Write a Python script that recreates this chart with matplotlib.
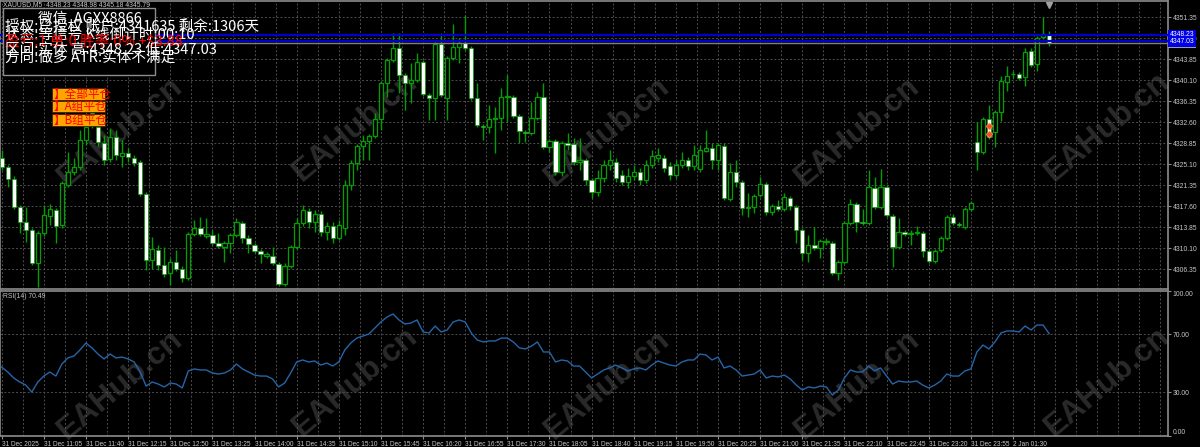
import numpy as np
import matplotlib
matplotlib.use('Agg')
import matplotlib.pyplot as plt
import matplotlib.transforms as mtrans
from matplotlib.patches import Rectangle

# ---- data (XAUUSD M5) ----
opens = [
    4326.23, 4324.62, 4322.48, 4317.48, 4314.80, 4313.37, 4307.48, 4312.83, 4315.87, 4316.94,
    4314.26, 4321.40, 4323.73, 4324.62, 4329.44, 4334.26, 4331.76, 4328.90, 4326.05, 4329.98,
    4326.58, 4327.12, 4326.23, 4325.51, 4319.80, 4308.01, 4309.80, 4307.12, 4305.69, 4307.65,
    4306.40, 4304.80, 4312.65, 4313.73, 4312.30, 4312.48, 4311.05, 4310.33, 4311.05, 4312.48,
    4314.62, 4311.94, 4310.69, 4309.62, 4308.73, 4308.73, 4307.30, 4303.73, 4306.94, 4310.33,
    4314.62, 4316.76, 4314.80, 4316.23, 4313.01, 4314.08, 4311.94, 4313.73, 4321.40, 4325.33,
    4328.37, 4329.26, 4330.15, 4333.19, 4339.62, 4343.73, 4345.87, 4341.05, 4339.62, 4340.15,
    4343.37, 4337.48, 4336.94, 4346.58, 4336.94, 4344.08, 4346.05, 4346.76, 4345.87, 4336.94,
    4331.94, 4331.76, 4333.19, 4333.37, 4337.12, 4337.12, 4333.73, 4330.87, 4330.69, 4333.37,
    4337.12, 4328.19, 4329.26, 4323.73, 4328.90, 4328.73, 4325.51, 4325.87, 4322.30, 4320.15,
    4322.65, 4324.98, 4325.51, 4323.19, 4321.94, 4323.01, 4323.73, 4322.30, 4324.98, 4326.23,
    4326.23, 4324.80, 4323.19, 4324.98, 4325.87, 4324.80, 4324.26, 4327.48, 4328.01, 4325.87,
    4328.37, 4318.90, 4323.73, 4321.94, 4317.30, 4317.48, 4319.62, 4321.58, 4316.58, 4317.65,
    4317.12, 4319.08, 4317.48, 4313.37, 4309.26, 4310.69, 4310.15, 4311.23, 4311.05, 4305.69,
    4307.65, 4314.62, 4318.01, 4314.80, 4314.62, 4320.87, 4317.48, 4321.05, 4315.87, 4310.33,
    4313.01, 4312.74, 4312.83, 4312.83, 4309.62, 4307.83, 4309.80, 4311.94, 4315.69, 4314.44,
    4313.90, 4317.12, 4329.08, 4327.30, 4333.19, 4330.87, 4334.44, 4339.80, 4341.14, 4341.23,
    4340.69, 4345.33, 4343.01, 4347.83, 4348.23,
]
highs = [
    4327.65, 4324.98, 4323.01, 4317.83, 4317.48, 4313.73, 4313.19, 4317.83, 4318.01, 4317.30,
    4322.12, 4327.30, 4326.23, 4331.23, 4333.90, 4335.15, 4333.01, 4330.33, 4331.58, 4331.23,
    4329.44, 4328.01, 4326.76, 4325.87, 4320.15, 4312.12, 4310.69, 4310.33, 4308.37, 4309.80,
    4306.94, 4313.01, 4315.15, 4315.69, 4315.51, 4313.37, 4312.83, 4311.40, 4312.83, 4315.51,
    4314.98, 4312.48, 4311.05, 4309.98, 4309.44, 4310.33, 4307.65, 4307.48, 4310.69, 4315.51,
    4317.83, 4317.30, 4316.94, 4316.76, 4314.80, 4314.80, 4315.15, 4322.30, 4325.87, 4328.73,
    4330.33, 4330.51, 4334.26, 4339.98, 4344.08, 4348.55, 4348.55, 4341.40, 4343.19, 4344.98,
    4343.73, 4337.83, 4346.94, 4348.55, 4344.44, 4350.15, 4347.65, 4351.76, 4346.23, 4339.62,
    4332.30, 4335.69, 4335.33, 4338.73, 4341.05, 4337.48, 4334.08, 4331.23, 4336.23, 4338.01,
    4339.62, 4329.62, 4329.62, 4329.26, 4330.69, 4329.80, 4329.80, 4326.23, 4322.65, 4324.08,
    4325.87, 4327.65, 4326.23, 4324.08, 4324.44, 4324.98, 4324.44, 4325.87, 4327.65, 4328.01,
    4326.76, 4325.51, 4325.87, 4327.30, 4326.40, 4328.55, 4328.55, 4331.23, 4328.90, 4328.90,
    4328.90, 4325.33, 4325.87, 4322.30, 4319.98, 4319.80, 4322.83, 4321.94, 4318.01, 4318.73,
    4319.98, 4319.44, 4317.83, 4313.73, 4312.48, 4313.90, 4311.76, 4311.94, 4311.40, 4308.01,
    4314.98, 4318.90, 4318.37, 4317.12, 4324.08, 4322.83, 4324.26, 4321.40, 4316.23, 4315.51,
    4313.37, 4313.37, 4314.08, 4313.19, 4309.98, 4309.98, 4312.30, 4316.05, 4316.23, 4314.80,
    4317.48, 4318.55, 4332.65, 4333.55, 4335.69, 4334.80, 4340.87, 4342.65, 4341.76, 4341.58,
    4345.87, 4345.87, 4348.01, 4351.40, 4348.98,
]
lows = [
    4324.08, 4321.05, 4317.12, 4312.83, 4311.23, 4307.12, 4303.19, 4312.30, 4314.26, 4311.05,
    4313.73, 4321.05, 4323.19, 4324.08, 4328.55, 4331.58, 4328.37, 4324.98, 4325.51, 4325.87,
    4324.62, 4325.51, 4324.80, 4319.44, 4306.23, 4306.40, 4306.23, 4304.98, 4303.55, 4306.05,
    4304.08, 4304.44, 4312.30, 4312.30, 4311.94, 4310.69, 4310.15, 4307.65, 4309.26, 4312.12,
    4311.05, 4309.26, 4309.26, 4307.48, 4308.37, 4307.12, 4303.37, 4303.37, 4306.58, 4309.98,
    4314.08, 4313.73, 4313.01, 4312.30, 4311.58, 4311.05, 4311.58, 4312.48, 4320.51, 4324.08,
    4325.87, 4325.87, 4329.80, 4331.23, 4337.12, 4343.37, 4337.83, 4334.80, 4336.05, 4339.80,
    4337.30, 4333.01, 4333.01, 4337.12, 4333.01, 4343.73, 4343.19, 4345.51, 4336.58, 4331.76,
    4329.44, 4330.69, 4327.12, 4331.23, 4332.65, 4333.37, 4328.90, 4329.08, 4330.33, 4333.01,
    4327.83, 4327.30, 4323.19, 4323.01, 4327.65, 4324.98, 4324.08, 4321.40, 4319.08, 4319.44,
    4321.94, 4324.08, 4321.94, 4321.40, 4320.87, 4322.30, 4321.40, 4321.76, 4324.44, 4325.51,
    4323.73, 4322.30, 4322.65, 4324.44, 4324.08, 4324.08, 4323.73, 4327.30, 4324.26, 4324.08,
    4318.73, 4318.55, 4321.05, 4316.05, 4315.69, 4316.40, 4319.26, 4316.05, 4316.05, 4316.76,
    4316.76, 4316.94, 4311.05, 4308.01, 4307.65, 4309.80, 4308.37, 4310.69, 4305.33, 4304.44,
    4307.30, 4314.26, 4313.01, 4314.26, 4314.26, 4317.12, 4317.12, 4315.69, 4306.76, 4309.98,
    4312.30, 4310.69, 4312.48, 4308.55, 4307.48, 4307.48, 4309.44, 4311.58, 4314.26, 4313.90,
    4313.55, 4316.76, 4324.08, 4326.94, 4329.62, 4328.19, 4332.83, 4338.19, 4340.51, 4340.15,
    4339.08, 4342.48, 4341.76, 4347.48, 4346.23,
]
closes = [
    4324.62, 4322.48, 4317.48, 4314.80, 4313.37, 4307.48, 4312.83, 4316.05, 4317.12, 4314.08,
    4321.76, 4323.73, 4324.62, 4329.44, 4331.76, 4333.73, 4329.08, 4325.87, 4329.98, 4326.76,
    4327.12, 4326.40, 4325.33, 4319.80, 4308.01, 4309.98, 4307.12, 4305.51, 4307.65, 4306.40,
    4304.80, 4312.65, 4313.73, 4312.65, 4312.65, 4311.05, 4310.51, 4311.05, 4312.48, 4314.80,
    4311.94, 4310.87, 4309.62, 4309.08, 4309.08, 4307.48, 4303.73, 4306.94, 4310.33, 4314.62,
    4316.94, 4314.80, 4316.23, 4313.01, 4314.08, 4311.94, 4314.26, 4321.40, 4325.33, 4328.37,
    4329.26, 4330.15, 4333.19, 4339.62, 4343.73, 4345.87, 4341.05, 4339.62, 4340.15, 4343.37,
    4337.65, 4336.94, 4346.58, 4337.48, 4344.08, 4346.05, 4346.76, 4345.87, 4336.94, 4332.12,
    4331.76, 4333.19, 4333.37, 4337.12, 4337.30, 4333.73, 4331.05, 4330.69, 4333.37, 4337.12,
    4328.19, 4329.26, 4323.73, 4328.90, 4328.55, 4325.51, 4325.87, 4322.30, 4320.15, 4322.65,
    4324.98, 4325.87, 4322.65, 4321.94, 4323.01, 4323.73, 4322.30, 4324.98, 4326.58, 4326.76,
    4324.44, 4323.19, 4324.98, 4325.87, 4324.80, 4326.76, 4327.65, 4328.01, 4325.87, 4328.55,
    4319.08, 4323.73, 4321.94, 4317.30, 4317.48, 4319.44, 4321.58, 4316.58, 4317.65, 4317.12,
    4319.26, 4317.65, 4313.37, 4309.26, 4310.69, 4310.15, 4311.40, 4311.40, 4305.69, 4307.65,
    4314.62, 4318.01, 4314.80, 4314.62, 4321.05, 4317.48, 4321.05, 4316.05, 4310.33, 4313.01,
    4312.65, 4312.83, 4313.01, 4309.62, 4307.83, 4309.62, 4311.94, 4315.69, 4314.62, 4314.26,
    4317.12, 4318.19, 4327.30, 4333.19, 4329.98, 4334.44, 4339.98, 4340.87, 4341.23, 4340.51,
    4345.15, 4342.83, 4347.65, 4348.37, 4346.71,
]
rsi = [
    47.4, 44.0, 39.9, 37.1, 35.0, 30.2, 37.1, 41.2, 44.0, 41.2,
    49.5, 53.7, 55.0, 59.2, 64.0, 60.6, 56.4, 53.0, 56.4, 53.7,
    54.3, 53.0, 50.9, 44.0, 34.3, 37.1, 35.7, 33.7, 36.4, 35.7,
    33.0, 44.7, 46.1, 45.4, 45.4, 43.3, 42.6, 43.3, 45.4, 49.5,
    46.1, 44.0, 41.9, 41.2, 41.2, 39.2, 33.7, 36.4, 43.3, 50.9,
    52.3, 50.9, 51.6, 48.8, 50.2, 48.1, 50.9, 59.2, 64.0, 67.4,
    68.8, 70.2, 74.3, 78.5, 81.9, 84.0, 79.9, 77.1, 77.8, 79.9,
    71.6, 70.9, 75.7, 71.6, 73.0, 78.5, 79.9, 78.5, 70.9, 66.1,
    64.7, 65.4, 65.4, 67.4, 67.4, 64.7, 60.6, 59.9, 61.9, 64.7,
    57.8, 57.8, 50.9, 52.3, 51.6, 48.1, 48.1, 44.0, 39.9, 42.6,
    45.4, 46.8, 48.8, 46.8, 44.7, 46.1, 46.8, 45.4, 48.8, 51.6,
    50.2, 48.8, 48.1, 50.9, 52.3, 52.3, 56.4, 55.7, 52.3, 54.3,
    46.8, 48.1, 45.4, 41.2, 41.9, 42.6, 45.4, 39.9, 41.2, 40.6,
    41.9, 39.2, 35.0, 31.6, 33.7, 33.0, 34.3, 33.7, 28.1, 31.6,
    39.9, 45.4, 44.0, 44.0, 48.1, 44.7, 46.8, 41.2, 35.7, 37.8,
    37.1, 37.1, 37.8, 35.0, 33.0, 35.0, 37.8, 42.6, 41.2, 41.2,
    44.7, 46.1, 57.8, 62.6, 59.9, 64.7, 70.9, 72.3, 72.3, 71.6,
    75.7, 73.0, 76.4, 76.4, 70.5,
]

time_labels = [
    '31 Dec 2025', '31 Dec 11:05', '31 Dec 11:40', '31 Dec 12:15', '31 Dec 12:50',
    '31 Dec 13:25', '31 Dec 14:00', '31 Dec 14:35', '31 Dec 15:10', '31 Dec 15:45',
    '31 Dec 16:20', '31 Dec 16:55', '31 Dec 17:30', '31 Dec 18:05', '31 Dec 18:40',
    '31 Dec 19:15', '31 Dec 19:50', '31 Dec 20:25', '31 Dec 21:00', '31 Dec 21:35',
    '31 Dec 22:10', '31 Dec 22:45', '31 Dec 23:20', '31 Dec 23:55', '2 Jan 01:30',
]
price_ticks = [4351.35, 4347.60, 4343.85, 4340.10, 4336.35, 4332.60, 4328.85,
               4325.10, 4321.35, 4317.60, 4313.85, 4310.10, 4306.35]
rsi_ticks = [0, 30, 70, 100]
rsi_levels = [30, 70]

range_high = 4348.23
range_low = 4347.03
bid = 4346.71
trade_bars = [164, 164]
trade_prices = [4331.94, 4330.46]

info_lines = [
    '授权:已授权 账户:4341635 剩余:1306天',
    '状态:等信号 K线倒计时:00:10',
    '区间:实体 高:4348.23 低:4347.03',
    '方向:做多 ATR:实体不满足',
]
info_red = '盈亏:1 单:0 胜率:0% +$3.88'
buttons = ['】全部平仓', '】A组平仓', '】B组平仓']

wm_x = [120, 355, 607, 857, 1107, 120, 355, 607, 857, 1107]
wm_y = [132, 127, 132, 132, 127, 385, 382, 385, 385, 382]

# ---- figure ----
W, H = 1200, 447
GREEN = '#00a000'
GRID = '#4e4e4e'
TXT = '#c8c8c8'
CJK = ['Noto Sans CJK SC', 'DejaVu Sans']
plt.rcParams['font.family'] = ['Liberation Sans', 'DejaVu Sans']

fig = plt.figure(figsize=(W / 100, H / 100), dpi=100, facecolor='black')


def rect(top, bottom, right=1167.7):
    return [0, 1 - bottom / H, right / W, (bottom - top) / H]


wm = fig.add_axes([0, 0, 1, 1], zorder=0)
wm.set_xlim(0, W)
wm.set_ylim(H, 0)
wm.axis('off')
for x, y in zip(wm_x, wm_y):
    wm.text(x, y, 'EAHub.cn', rotation=40, rotation_mode='anchor', ha='center', va='center',
            color='#2a2a2a', fontsize=23, fontweight='bold', family='Liberation Sans')

ax = fig.add_axes(rect(1, 289), zorder=1)
ax_rsi = fig.add_axes(rect(290.8, 435.8), zorder=1)

n = len(opens)
bars = np.arange(n)
grid_bars = np.arange(0, 194, 3.5)
for a in (ax, ax_rsi):
    a.set_facecolor('none')
    a.set_xlim(-0.28, 193.7)
    for s in a.spines.values():
        s.set_color('#8c8c8c')
        s.set_linewidth(1.2)
    for g in grid_bars:
        a.axvline(g, color=GRID, lw=0.7, ls=(0, (2, 2)), zorder=0)

# candles
o = np.array(opens)
c = np.array(closes)
up = c >= o
body_lo = np.minimum(o, c)
body_h = np.maximum(np.abs(c - o), 0.12)
ax.vlines(bars, lows, highs, color=GREEN, lw=1, zorder=3)
ax.bar(bars[up], body_h[up], bottom=body_lo[up], width=0.72, color='black',
       edgecolor=GREEN, linewidth=0.9, zorder=4)
ax.bar(bars[~up], body_h[~up], bottom=body_lo[~up], width=0.72, color='white',
       edgecolor=GREEN, linewidth=0.5, zorder=4)

ax.set_ylim(4302.83, 4354.26)
for p in price_ticks:
    ax.axhline(p, color=GRID, lw=0.7, ls=(0, (2, 2)), zorder=0)
ax.axhline(bid, color='#808080', lw=1, zorder=5)
ax.axhline(range_high, color='#0000cc', lw=1.6, zorder=5)
ax.axhline(range_low, color='#0000cc', lw=1.6, zorder=5)
ax.plot(trade_bars, trade_prices, ls='none', marker='D', ms=3.5, mfc='#ff4a20',
        mec='#ff9060', mew=0.5, zorder=6)

ax.yaxis.tick_right()
ax.set_yticks(price_ticks)
ax.set_yticklabels([f'{v:.2f}' for v in price_ticks])
ax.tick_params(axis='y', direction='out', length=2.5, color='#909090', labelcolor=TXT,
               labelsize=4.9, pad=1)
ax.set_xticks([])

tr = mtrans.blended_transform_factory(ax.transAxes, ax.transData)
ax.text(1.002, bid, f'{bid:.2f}', transform=tr, ha='left', va='center', fontsize=4.9,
        color='black', clip_on=False, zorder=7,
        bbox=dict(boxstyle='square,pad=0.25', fc='#a0a0a0', ec='none'))
for v in (range_high, range_low):
    ax.text(1.002, v, f'{v:.2f}', transform=tr, ha='left', va='center', fontsize=4.9,
            color='white', clip_on=False, zorder=8,
            bbox=dict(boxstyle='square,pad=0.25', fc='#0000e6', ec='none'))
trx = mtrans.blended_transform_factory(ax.transData, ax.transAxes)
ax.plot([n - 1], [0.985], transform=trx, marker='v', ms=4, color='#a0a0a0',
        clip_on=False, zorder=8)

# RSI
ax_rsi.set_ylim(0, 100)
for lv in rsi_levels:
    ax_rsi.axhline(lv, color=GRID, lw=0.7, ls=(0, (2, 2)), zorder=0)
ax_rsi.plot(bars, rsi, color='#2565a8', lw=1, zorder=3)
ax_rsi.yaxis.tick_right()
ax_rsi.set_yticks(rsi_ticks)
ax_rsi.set_yticklabels([f'{v:.2f}' for v in rsi_ticks])
ax_rsi.tick_params(axis='y', direction='out', length=2.5, color='#909090', labelcolor=TXT,
                   labelsize=4.9, pad=1)
ylabs = ax_rsi.get_yticklabels()
ylabs[0].set_va('bottom')
ylabs[-1].set_va('top')
ax_rsi.set_xticks(bars[::7])
ax_rsi.set_xticklabels(time_labels, ha='left')
ax_rsi.tick_params(axis='x', direction='out', length=2.5, color='#909090', labelcolor=TXT,
                   labelsize=4.7, pad=1)

# overlay texts and panel objects (pixel coordinates)
ov = fig.add_axes([0, 0, 1, 1], zorder=3)
ov.set_xlim(0, W)
ov.set_ylim(H, 0)
ov.axis('off')
ov.text(3, 4.5, 'XAUUSD,M5  4348.23 4348.98 4345.18 4345.79', color=TXT, fontsize=4.9,
        va='center', ha='left')
ov.text(3, 297, 'RSI(14) 70.49', color=TXT, fontsize=4.9, va='center', ha='left')

ov.add_patch(Rectangle((2.5, 8), 152.5, 67, fc='black', ec='#8c8c8c', lw=1))
ov.text(38, 19, '微信  AGXX8866', color='white', fontsize=10.5, family=CJK,
        va='center', ha='left')
info_y = [28, 35, 50, 58]
for s, y in zip(info_lines[:2], info_y[:2]):
    ov.text(5, y, s, color='white', fontsize=10.5, family=CJK, va='center', ha='left')
ov.text(5, 42, info_red, color='#ff0000', fontsize=10.5, family=CJK, va='center', ha='left')
for s, y in zip(info_lines[2:], info_y[2:]):
    ov.text(5, y, s, color='white', fontsize=10.5, family=CJK, va='center', ha='left')

btn_top = [88.3, 101.0, 114.3]
for s, y in zip(buttons, btn_top):
    r = Rectangle((51.7, y), 53.3, 11.2, fc='#ffa500', ec='#3a2000', lw=0.6)
    ov.add_patch(r)
    t = ov.text(53.5, y + 5.8, s, color='#ff0000', fontsize=8.4, family=CJK,
                va='center', ha='left')
    t.set_clip_path(r)

fig.savefig('out.png', dpi=100, facecolor='black')
